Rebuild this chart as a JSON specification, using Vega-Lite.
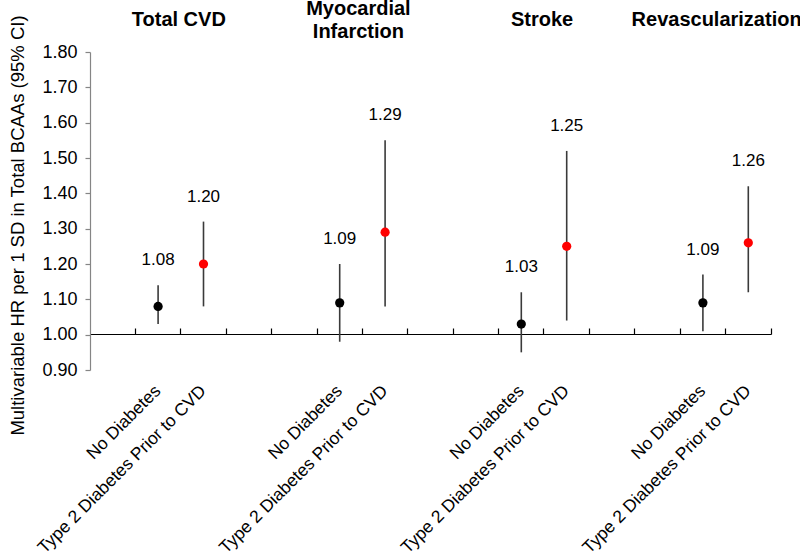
{
  "$schema": "https://vega.github.io/schema/vega-lite/v6.json",
  "width": 681,
  "height": 318,
  "autosize": {"type": "none"},
  "padding": {"left": 90, "top": 52, "right": 29, "bottom": 185},
  "background": "white",
  "config": {
    "font": "Liberation Sans",
    "view": {"stroke": null},
    "axisY": {
      "titleFontSize": 18.5,
      "titleFontWeight": "normal",
      "titleColor": "#000000",
      "titlePadding": 14,
      "labelFontSize": 18,
      "labelColor": "#000000",
      "labelPadding": 8,
      "labelOverlap": false,
      "labelFlush": false,
      "grid": false,
      "domainColor": "#858585",
      "domainWidth": 1.2,
      "tickColor": "#858585",
      "tickSize": 5,
      "tickWidth": 1.2
    }
  },
  "data": {
    "values": [
      {"slot": "Total CVD: No Diabetes", "cohort": "No Diabetes", "hr": 1.08, "lower": 1.03, "upper": 1.14},
      {"slot": "Total CVD: Type 2 Diabetes Prior to CVD", "cohort": "Type 2 Diabetes Prior to CVD", "hr": 1.20, "lower": 1.08, "upper": 1.32},
      {"slot": "Myocardial Infarction: No Diabetes", "cohort": "No Diabetes", "hr": 1.09, "lower": 0.98, "upper": 1.20},
      {"slot": "Myocardial Infarction: Type 2 Diabetes Prior to CVD", "cohort": "Type 2 Diabetes Prior to CVD", "hr": 1.29, "lower": 1.08, "upper": 1.55},
      {"slot": "Stroke: No Diabetes", "cohort": "No Diabetes", "hr": 1.03, "lower": 0.95, "upper": 1.12},
      {"slot": "Stroke: Type 2 Diabetes Prior to CVD", "cohort": "Type 2 Diabetes Prior to CVD", "hr": 1.25, "lower": 1.04, "upper": 1.52},
      {"slot": "Revascularization: No Diabetes", "cohort": "No Diabetes", "hr": 1.09, "lower": 1.01, "upper": 1.17},
      {"slot": "Revascularization: Type 2 Diabetes Prior to CVD", "cohort": "Type 2 Diabetes Prior to CVD", "hr": 1.26, "lower": 1.12, "upper": 1.42}
    ]
  },
  "encoding": {
    "x": {
      "field": "slot",
      "type": "nominal",
      "sort": null,
      "axis": null,
      "scale": {
        "domain": [
          "_0",
          "Total CVD: No Diabetes",
          "Total CVD: Type 2 Diabetes Prior to CVD",
          "_3",
          "_4",
          "Myocardial Infarction: No Diabetes",
          "Myocardial Infarction: Type 2 Diabetes Prior to CVD",
          "_7",
          "_8",
          "Stroke: No Diabetes",
          "Stroke: Type 2 Diabetes Prior to CVD",
          "_11",
          "_12",
          "Revascularization: No Diabetes",
          "Revascularization: Type 2 Diabetes Prior to CVD"
        ],
        "paddingInner": 0,
        "paddingOuter": 0
      }
    }
  },
  "layer": [
    {
      "mark": {"type": "rule", "color": "#3a3a3a", "strokeWidth": 1.6},
      "encoding": {
        "x": {
          "field": "slot",
          "type": "nominal",
          "axis": {
            "orient": "bottom",
            "title": null,
            "domain": false,
            "ticks": false,
            "labelAngle": -45,
            "labelAlign": "right",
            "labelBaseline": "middle",
            "labelFontSize": 17.5,
            "labelColor": "#000000",
            "labelPadding": 18,
            "labelLimit": 0,
            "labelOverlap": false,
            "values": [
              "Total CVD: No Diabetes",
              "Total CVD: Type 2 Diabetes Prior to CVD",
              "Myocardial Infarction: No Diabetes",
              "Myocardial Infarction: Type 2 Diabetes Prior to CVD",
              "Stroke: No Diabetes",
              "Stroke: Type 2 Diabetes Prior to CVD",
              "Revascularization: No Diabetes",
              "Revascularization: Type 2 Diabetes Prior to CVD"
            ],
            "labelExpr": "split(datum.value, ': ')[1]"
          }
        },
        "y": {
          "field": "lower",
          "type": "quantitative",
          "scale": {"domain": [0.9, 1.8], "nice": false, "zero": false},
          "axis": {
            "title": "Multivariable HR per 1 SD in Total BCAAs (95% CI)",
            "titleY": 173,
            "values": [0.9, 1.0, 1.1, 1.2, 1.3, 1.4, 1.5, 1.6, 1.7, 1.8],
            "format": ".2f"
          }
        },
        "y2": {"field": "upper"}
      }
    },
    {
      "mark": {"type": "point", "filled": true, "size": 85, "opacity": 1},
      "encoding": {
        "x": {
          "field": "slot",
          "type": "nominal",
          "axis": {
            "orient": "top",
            "offset": -282,
            "title": null,
            "labels": false,
            "domain": true,
            "domainColor": "#000000",
            "domainWidth": 1.2,
            "ticks": true,
            "tickColor": "#000000",
            "tickSize": 6,
            "tickWidth": 1.2,
            "bandPosition": 1,
            "grid": false
          }
        },
        "y": {
          "field": "hr",
          "type": "quantitative",
          "axis": {
            "title": "Multivariable HR per 1 SD in Total BCAAs (95% CI)",
            "titleY": 173,
            "values": [0.9, 1.0, 1.1, 1.2, 1.3, 1.4, 1.5, 1.6, 1.7, 1.8],
            "format": ".2f"
          }
        },
        "color": {
          "field": "cohort",
          "type": "nominal",
          "scale": {"domain": ["No Diabetes", "Type 2 Diabetes Prior to CVD"], "range": ["#000000", "#ff0000"]},
          "legend": null
        }
      }
    },
    {
      "mark": {"type": "text", "dy": -25, "fontSize": 17, "color": "#000000", "align": "center", "baseline": "middle"},
      "encoding": {
        "y": {
          "field": "upper",
          "type": "quantitative",
          "axis": {
            "title": "Multivariable HR per 1 SD in Total BCAAs (95% CI)",
            "titleY": 173,
            "values": [0.9, 1.0, 1.1, 1.2, 1.3, 1.4, 1.5, 1.6, 1.7, 1.8],
            "format": ".2f"
          }
        },
        "text": {"field": "hr", "type": "quantitative", "format": ".2f"}
      }
    },
    {
      "data": {
        "values": [
          {"slot": "Total CVD: No Diabetes", "title": "Total CVD"},
          {"slot": "Stroke: No Diabetes", "title": "Stroke"}
        ]
      },
      "mark": {"type": "text", "fontSize": 20, "fontWeight": "bold", "color": "#000000", "align": "center", "baseline": "middle", "dx": -2},
      "encoding": {
        "x": {"field": "slot", "type": "nominal", "bandPosition": 1},
        "y": {
          "datum": 1.89,
          "axis": {
            "title": "Multivariable HR per 1 SD in Total BCAAs (95% CI)",
            "titleY": 173,
            "values": [0.9, 1.0, 1.1, 1.2, 1.3, 1.4, 1.5, 1.6, 1.7, 1.8],
            "format": ".2f"
          }
        },
        "text": {"field": "title"}
      }
    },
    {
      "data": {
        "values": [
          {"slot": "Myocardial Infarction: No Diabetes", "title": "Myocardial\nInfarction"}
        ]
      },
      "mark": {"type": "text", "fontSize": 20, "fontWeight": "bold", "color": "#000000", "align": "center", "baseline": "middle", "lineBreak": "\n", "lineHeight": 23, "dx": -4, "dy": -11.5},
      "encoding": {
        "x": {"field": "slot", "type": "nominal", "bandPosition": 1},
        "y": {
          "datum": 1.89,
          "axis": {
            "title": "Multivariable HR per 1 SD in Total BCAAs (95% CI)",
            "titleY": 173,
            "values": [0.9, 1.0, 1.1, 1.2, 1.3, 1.4, 1.5, 1.6, 1.7, 1.8],
            "format": ".2f"
          }
        },
        "text": {"field": "title"}
      }
    },
    {
      "data": {
        "values": [
          {"slot": "Revascularization: No Diabetes", "title": "Revascularization"}
        ]
      },
      "mark": {"type": "text", "fontSize": 20, "fontWeight": "bold", "color": "#000000", "align": "center", "baseline": "middle", "dx": -9},
      "encoding": {
        "x": {"field": "slot", "type": "nominal", "bandPosition": 1},
        "y": {
          "datum": 1.89,
          "axis": {
            "title": "Multivariable HR per 1 SD in Total BCAAs (95% CI)",
            "titleY": 173,
            "values": [0.9, 1.0, 1.1, 1.2, 1.3, 1.4, 1.5, 1.6, 1.7, 1.8],
            "format": ".2f"
          }
        },
        "text": {"field": "title"}
      }
    }
  ]
}
